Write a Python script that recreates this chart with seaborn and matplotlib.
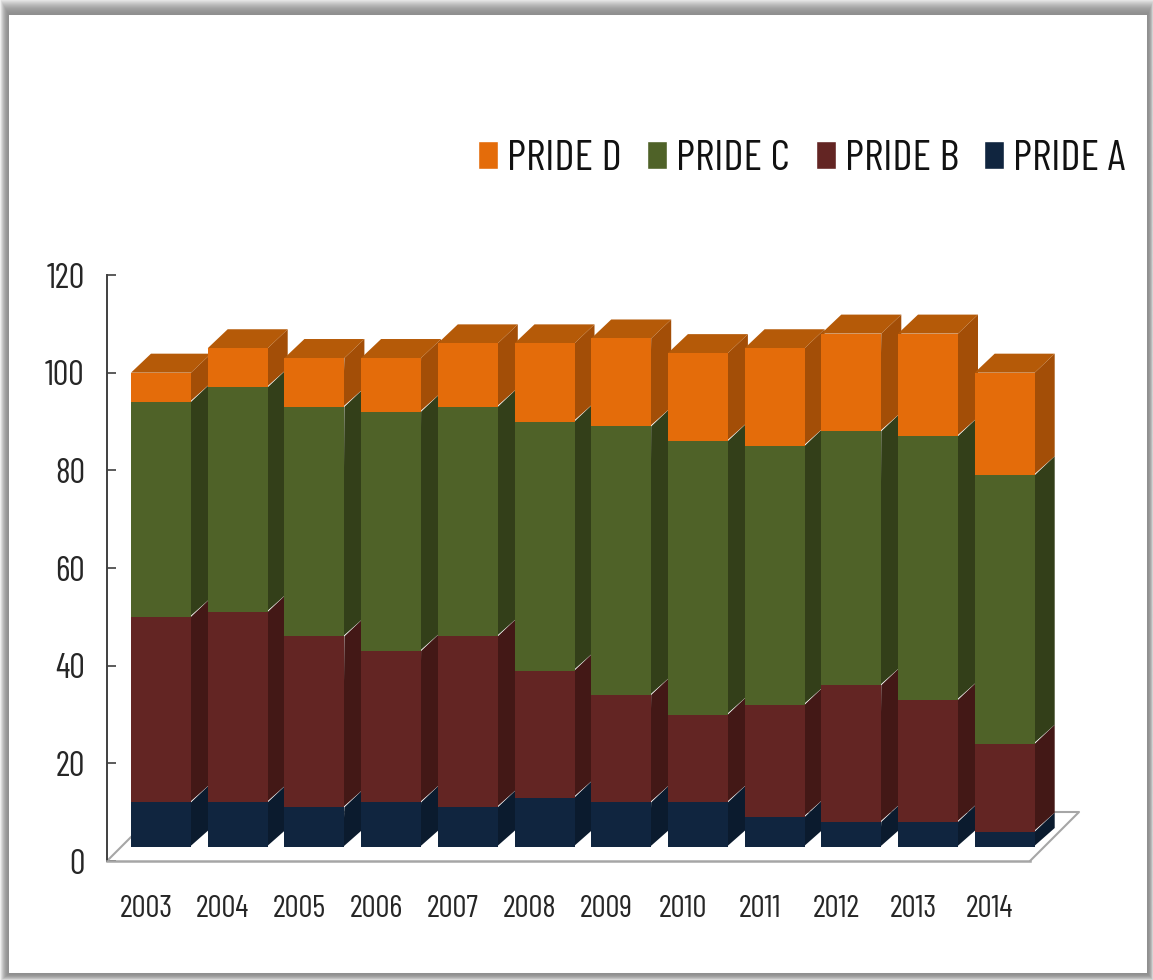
import numpy as np
import matplotlib
matplotlib.use("Agg")
import matplotlib.pyplot as plt
from matplotlib import font_manager as fm
from matplotlib.patches import Patch
import seaborn as sns

years = ["2003", "2004", "2005", "2006", "2007", "2008",
         "2009", "2010", "2011", "2012", "2013", "2014"]
# segment sizes read against the value axis
pride_a = [12, 12, 11, 12, 11, 13, 12, 12, 9, 8, 8, 6]
pride_b = [38, 39, 35, 31, 35, 26, 22, 18, 23, 28, 25, 18]
pride_c = [44, 46, 47, 49, 47, 51, 55, 56, 53, 52, 54, 55]
pride_d = [6, 8, 10, 11, 13, 16, 18, 18, 20, 20, 21, 21]
y_ticks = [0, 20, 40, 60, 80, 100, 120]

W, H = 1153, 980
DPI = 100
LEFT, RIGHT, TOP, BOTTOM = 107, 1030, 275, 861   # axes box in px
BAR0, PITCH, BAR_W = 161, 76.7, 60
DEPTH_X, DEPTH_Y = 20, 19
FLOOR_PX = 14
FLOOR_BACK = 49

sns.set_style("white")
# condensed face if there is one, otherwise shrink the plain one so the legend still fits
have_narrow = "Barlow Condensed" in {f.name for f in fm.fontManager.ttflist}
scale = 1.0 if have_narrow else 0.72
plt.rcParams["font.family"] = ["Barlow Condensed", "Liberation Sans", "DejaVu Sans"] if have_narrow else ["Liberation Sans", "DejaVu Sans"]
plt.rcParams["text.color"] = "#262626"

fig = plt.figure(figsize=(W / DPI, H / DPI), dpi=DPI)

# grey picture frame with a soft shadow
bg = fig.add_axes([0, 0, 1, 1], zorder=-1)
yy, xx = np.mgrid[0:H, 0:W]
box_l, box_r, box_t, box_b = 9, 1147, 16, 973
shade = np.max([(box_l - xx) / box_l, (xx - box_r) / (W - box_r),
                (box_t - yy) / box_t, (yy - box_b) / (H - box_b)], axis=0)
shade = np.clip(shade, 0, 1)
frame = 0.56 + shade ** 2 * 0.38
frame[(xx >= box_l) & (xx < box_r) & (yy >= box_t) & (yy < box_b)] = 1.0
bg.imshow(frame, cmap="gray", vmin=0, vmax=1, aspect="auto")
bg.axis("off")

ax = fig.add_axes([LEFT / W, 1 - BOTTOM / H, (RIGHT - LEFT) / W, (BOTTOM - TOP) / H])
ax.patch.set_alpha(0)

px_x = PITCH            # px per category step
px_y = (BOTTOM - TOP) / 120   # px per value unit
dx, dy = DEPTH_X / px_x, DEPTH_Y / px_y
floor = FLOOR_PX / px_y
seam = 1.5 / px_x       # sides run a little under the front so no white line shows

series = [
    ("PRIDE A", pride_a, "#10253F", "#0B1B2E"),
    ("PRIDE B", pride_b, "#632523", "#431816"),
    ("PRIDE C", pride_c, "#4F6228", "#333F19"),
    ("PRIDE D", pride_d, "#E46C0A", "#A34E07"),
]
cap_col = "#B55A08"

bottom = np.zeros(len(years))
top_bars = []
for name, vals, col, side in series:
    vals = np.array(vals, dtype=float)
    top = bottom + vals
    lo = np.maximum(bottom, floor)
    n_before = len(ax.patches)
    sns.barplot(x=years, y=top - lo, bottom=lo, color=col, saturation=1,
                width=BAR_W / PITCH, linewidth=0, ax=ax, zorder=4, clip_on=False)
    top_bars = list(ax.patches[n_before:])
    for bar in top_bars:
        xr = bar.get_x() + bar.get_width()
        y0 = bar.get_y()
        y1 = y0 + bar.get_height()
        ax.fill([xr - seam, xr, xr + dx, xr + dx, xr - seam], [y0, y1, y1 + dy, y0 + dy, y0],
                color=side, lw=0, zorder=3, clip_on=False)
    bottom = top

# caps on top of the stack
for bar in top_bars:
    xl = bar.get_x()
    xr = xl + bar.get_width()
    y1 = bar.get_y() + bar.get_height()
    ax.fill([xl, xr, xr + dx, xl + dx], [y1, y1, y1 + dy, y1 + dy],
            color=cap_col, lw=0, zorder=3, clip_on=False)

x0 = (LEFT - BAR0) / PITCH
x1 = (RIGHT - BAR0) / PITCH
ax.set_xlim(x0, x1)
ax.set_ylim(0, 120)

# floor of the 3d box
fx, fy = FLOOR_BACK / px_x, FLOOR_BACK / px_y
floor_col = "#a6a6a6"
ax.plot([x0, x0 + fx, x1 + fx, x1], [0, fy, fy, 0], color=floor_col, lw=1.5,
        zorder=1, clip_on=False)

sns.despine(ax=ax, top=True, right=True)
ax.spines["left"].set_color("#404040")
ax.spines["left"].set_linewidth(1.4)
ax.spines["bottom"].set_color(floor_col)
ax.spines["bottom"].set_linewidth(1.8)

ax.set_yticks(y_ticks)
ax.tick_params(axis="y", left=True, direction="in", length=6.5, width=1.2,
               color="#404040", pad=16, labelsize=25 * scale, labelcolor="#262626")
ax.set_xticks(np.arange(len(years)) - 15 / PITCH)
ax.set_xticklabels(years)
ax.tick_params(axis="x", bottom=False, pad=21, labelsize=22.5 * scale, labelcolor="#262626")
ax.set_xlabel("")
ax.set_ylabel("")

handles = [Patch(facecolor=s[2], label=s[0]) for s in reversed(series)]
fig.legend(handles=handles, loc="center left", ncol=4, frameon=False, labelcolor="#111111",
           bbox_to_anchor=(478 / W, 1 - 160 / H), bbox_transform=fig.transFigure,
           fontsize=31 * scale, handlelength=0.465, handleheight=0.63,
           handletextpad=0.21, columnspacing=0.59, borderpad=0, borderaxespad=0)

fig.savefig("out.png", dpi=DPI)
